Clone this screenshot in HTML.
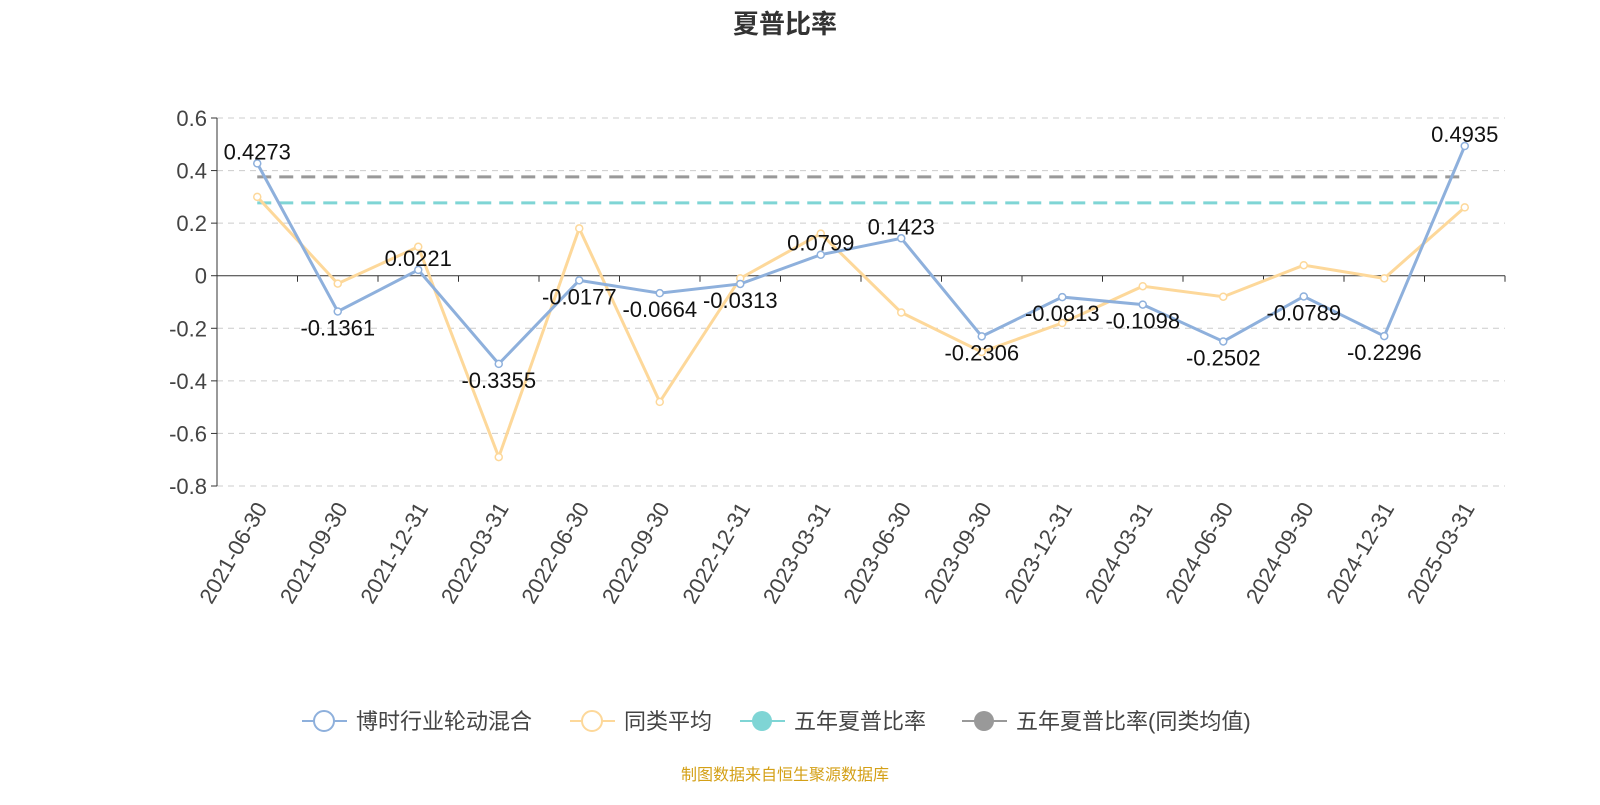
<!DOCTYPE html>
<html><head><meta charset="utf-8"><style>
body{margin:0;background:#fff;font-family:"Liberation Sans","Noto Sans CJK SC",sans-serif}
</style></head><body>
<svg id="c" width="1600" height="800" xmlns="http://www.w3.org/2000/svg" font-family="Liberation Sans, Noto Sans CJK SC, sans-serif">
<text x="785" y="33" text-anchor="middle" font-size="26" font-weight="bold" fill="#333">夏普比率</text>
<g id="grid"></g><g id="axes"></g><g id="series"></g><g id="labels"></g>
<g font-size="22" fill="#444">
<g><line x1="302" y1="721" x2="347" y2="721" stroke="#8eb0dc" stroke-width="2"/><circle cx="324" cy="721" r="10" fill="#fff" stroke="#8eb0dc" stroke-width="2"/><text x="356" y="729">博时行业轮动混合</text></g>
<g><line x1="570" y1="721" x2="615" y2="721" stroke="#fdd89a" stroke-width="2"/><circle cx="592" cy="721" r="10" fill="#fff" stroke="#fdd89a" stroke-width="2"/><text x="624" y="729">同类平均</text></g>
<g><line x1="740" y1="721" x2="785" y2="721" stroke="#7fd5d5" stroke-width="2"/><circle cx="762" cy="721" r="10" fill="#7fd5d5"/><text x="794" y="729">五年夏普比率</text></g>
<g><line x1="962" y1="721" x2="1007" y2="721" stroke="#999" stroke-width="2"/><circle cx="984" cy="721" r="10" fill="#999"/><text x="1016" y="729">五年夏普比率(同类均值)</text></g>
</g>
<text x="785" y="780" text-anchor="middle" font-size="16" fill="#d4a017">制图数据来自恒生聚源数据库</text>
</svg>
<script>
const categories=["2021-06-30","2021-09-30","2021-12-31","2022-03-31","2022-06-30","2022-09-30","2022-12-31","2023-03-31","2023-06-30","2023-09-30","2023-12-31","2024-03-31","2024-06-30","2024-09-30","2024-12-31","2025-03-31"];
const fundValues=[0.4273,-0.1361,0.0221,-0.3355,-0.0177,-0.0664,-0.0313,0.0799,0.1423,-0.2306,-0.0813,-0.1098,-0.2502,-0.0789,-0.2296,0.4935];
const peerValues=[0.30,-0.03,0.11,-0.69,0.18,-0.48,-0.01,0.16,-0.14,-0.29,-0.18,-0.04,-0.08,0.04,-0.01,0.26];
const fiveYearSharpe=0.277;
const fiveYearPeer=0.376;
const yTicks=[0.6,0.4,0.2,0,-0.2,-0.4,-0.6,-0.8];
const NS="http://www.w3.org/2000/svg";
const X0=217,X1=1505,Y0=118,Y1=486,yMax=0.6,yMin=-0.8;
const bw=(X1-X0)/categories.length;
const xs=i=>X0+bw*(i+0.5);
const ys=v=>Y0+(yMax-v)/(yMax-yMin)*(Y1-Y0);
function mk(t,a,p){const e=document.createElementNS(NS,t);for(const k in a)e.setAttribute(k,a[k]);p.appendChild(e);return e;}
const grid=document.getElementById('grid'),axes=document.getElementById('axes'),ser=document.getElementById('series'),lab=document.getElementById('labels');
yTicks.forEach(v=>{
 const y=ys(v);
 if(v!==0){const g=mk('line',{x1:X0,x2:X1,y1:y,y2:y,stroke:'#ccc','stroke-dasharray':'6,5'},grid);
 
 }
 mk('line',{x1:X0-6,x2:X0,y1:y,y2:y,stroke:'#333'},axes);
 const t=mk('text',{x:X0-10,y:y+8,'text-anchor':'end','font-size':22,fill:'#444'},axes);
 t.textContent=v===0?'0':String(v);
 
 
});
const ya=mk('line',{x1:X0,x2:X0,y1:Y0,y2:Y1,stroke:'#333'},axes);


const xa=mk('line',{x1:X0,x2:X1,y1:ys(0),y2:ys(0),stroke:'#333'},axes);


for(let i=0;i<=categories.length;i++){mk('line',{x1:X0+bw*i,x2:X0+bw*i,y1:ys(0),y2:ys(0)+6,stroke:'#333'},axes);}
categories.forEach((c,i)=>{
 const x=xs(i)+4,y=Y1+18;
 const t=mk('text',{x:x,y:y,'text-anchor':'end','font-size':22,fill:'#444',transform:`rotate(-60 ${x} ${y})`,dy:'0.35em'},axes);
 t.textContent=c;
 
 
});
const dl=(v,col,name)=>{const l=mk('line',{x1:xs(0),x2:xs(categories.length-1),y1:ys(v),y2:ys(v),stroke:col,'stroke-width':3,'stroke-dasharray':'14,8'},ser);
 
 };
dl(fiveYearPeer,'#999','five-year-sharpe-peer-line');
dl(fiveYearSharpe,'#7fd5d5','five-year-sharpe-line');
function series(vals,col,name){
 const p=mk('polyline',{points:vals.map((v,i)=>xs(i)+','+ys(v)).join(' '),fill:'none',stroke:col,'stroke-width':3},ser);
 
 
 vals.forEach((v,i)=>{const c=mk('circle',{cx:xs(i),cy:ys(v),r:3.5,fill:'#fff',stroke:col,'stroke-width':1.5},ser);
 
 });
}
series(peerValues,'#fdd89a','peer-avg');
series(fundValues,'#8eb0dc','fund');
fundValues.forEach((v,i)=>{
 const t=mk('text',{x:xs(i),y:ys(v)+(v>=0?-4:24),'text-anchor':'middle','font-size':22,fill:'#111'},lab);
 t.textContent=String(v);
 
 
});
</script>
</body></html>
